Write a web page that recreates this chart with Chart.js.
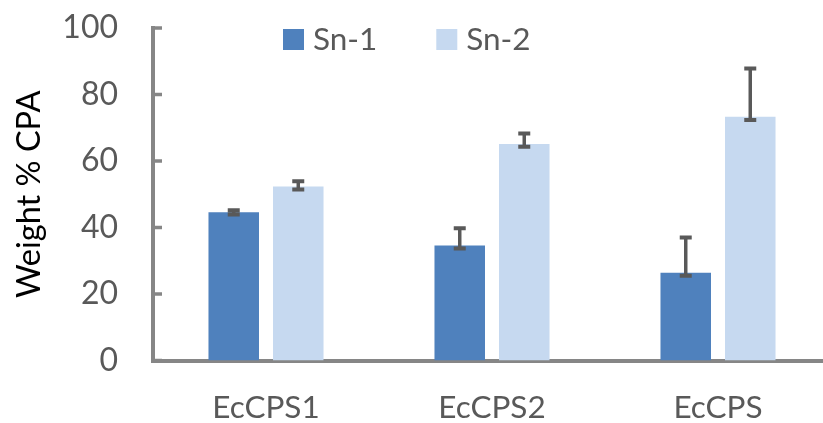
<!DOCTYPE html>
<html lang="en">
<head>
  <meta charset="UTF-8">
  <title>Weight % CPA</title>
  <script src="https://cdn.jsdelivr.net/npm/chart.js"></script>
  <style>
    * { box-sizing: border-box; margin: 0; padding: 0; }
    html, body { width: 823px; height: 423px; overflow: hidden; background: #fff; }
    /* plot runs a little past the right edge, as in the original */
    #wrap { position: relative; width: 832px; height: 423px; }
  </style>
</head>
<body>
  <div id="wrap"><canvas id="cpaChart"></canvas></div>

<script>
  // ─── data ────────────────────────────────────────────────────────────────
  const categories  = ['EcCPS1', 'EcCPS2', 'EcCPS'];
  const seriesNames = ['Sn-1', 'Sn-2'];
  const sn1         = [44.6, 34.6, 26.4];
  const sn2         = [52.3, 65.1, 73.3];
  const sn1ErrPlus  = [0.6, 5.2, 10.6];
  const sn1ErrMinus = [0.7, 0.9, 0.9];
  const sn2ErrPlus  = [1.6, 3.2, 14.5];
  const sn2ErrMinus = [0.9, 0.8, 1.0];
  const yTicks      = [0, 20, 40, 60, 80, 100];

  const FONT      = 'Lato, "Open Sans", sans-serif';
  const AXIS_GREY = '#868686';
  const TEXT_GREY = '#595959';

  // ─── error bars (drawn from the y scale) ────────────────────────────────
  const errorBars = {
    id: 'errorBars',
    afterDatasetsDraw(chart) {
      const { ctx, scales: { y } } = chart;
      ctx.save();
      ctx.strokeStyle = '#595959';
      chart.data.datasets.forEach((ds, i) => {
        chart.getDatasetMeta(i).data.forEach((bar, j) => {
          const v   = ds.data[j];
          const top = y.getPixelForValue(v + ds.errPlus[j]);
          const bot = y.getPixelForValue(v - ds.errMinus[j]);
          ctx.lineWidth = 3.5;
          ctx.beginPath();
          ctx.moveTo(bar.x, top);
          ctx.lineTo(bar.x, bot);
          ctx.stroke();
          ctx.lineWidth = 4;
          ctx.beginPath();
          ctx.moveTo(bar.x - 6, top); ctx.lineTo(bar.x + 6, top);
          ctx.moveTo(bar.x - 6, bot); ctx.lineTo(bar.x + 6, bot);
          ctx.stroke();
        });
      });
      ctx.restore();
    }
  };

  // ─── inward tick marks on the y axis ────────────────────────────────────
  const innerTicks = {
    id: 'innerTicks',
    afterDraw(chart) {
      const { ctx, chartArea, scales: { y } } = chart;
      ctx.save();
      ctx.strokeStyle = AXIS_GREY;
      ctx.lineWidth = 3.5;
      y.ticks.forEach(t => {
        const py = y.getPixelForValue(t.value);
        ctx.beginPath();
        ctx.moveTo(chartArea.left, py);
        ctx.lineTo(chartArea.left + 9, py);
        ctx.stroke();
      });
      ctx.restore();
    }
  };

  // ─── legend sitting inside the plot, like Excel's ───────────────────────
  const plotLegend = {
    id: 'plotLegend',
    afterDraw(chart) {
      const { ctx } = chart;
      ctx.save();
      ctx.font = '31.5px ' + FONT;
      ctx.textBaseline = 'alphabetic';
      let x = 283;
      chart.data.datasets.forEach(ds => {
        ctx.fillStyle = ds.backgroundColor;
        ctx.fillRect(x, 29, 21, 21);
        ctx.fillStyle = TEXT_GREY;
        ctx.fillText(ds.label, x + 30, 50);
        x += 30 + ctx.measureText(ds.label).width + 59;
      });
      ctx.restore();
    }
  };

  new Chart(document.getElementById('cpaChart'), {
    type: 'bar',
    data: {
      labels: categories,
      datasets: [
        { label: seriesNames[0], data: sn1, errPlus: sn1ErrPlus, errMinus: sn1ErrMinus,
          backgroundColor: '#4f81bd' },
        { label: seriesNames[1], data: sn2, errPlus: sn2ErrPlus, errMinus: sn2ErrMinus,
          backgroundColor: '#c6d9f0' },
      ]
    },
    options: {
      responsive: true,
      maintainAspectRatio: false,
      animation: false,
      devicePixelRatio: 1,
      layout: { padding: { top: 28, right: 1, left: 0, bottom: 0 } },
      datasets: { bar: { categoryPercentage: 0.571, barPercentage: 0.783 } },
      plugins: { legend: { display: false }, tooltip: { enabled: false } },
      scales: {
        x: {
          grid: { display: false, drawTicks: false },
          border: { color: AXIS_GREY, width: 4 },
          ticks: { color: TEXT_GREY, font: { family: FONT, size: 31.5 }, padding: 28 },
          afterFit: s => { s.height = 62.5; }
        },
        y: {
          min: 0, max: 100,
          afterBuildTicks: s => { s.ticks = yTicks.map(v => ({ value: v })); },
          grid: { display: false, drawTicks: false },
          border: { color: AXIS_GREY, width: 4 },
          ticks: { color: TEXT_GREY, font: { family: FONT, size: 32 }, padding: 35 },
          title: {
            display: true, text: 'Weight % CPA', color: '#000',
            font: { family: FONT, size: 32.5 }, padding: { top: 10, bottom: 0 }
          },
          // fixed width; drop the label overhang so the plot top follows layout padding
          afterFit: s => { s.width = 153; s.paddingTop = 0; s.paddingBottom = 0; }
        }
      }
    },
    plugins: [errorBars, innerTicks, plotLegend]
  });
</script>
</body>
</html>
